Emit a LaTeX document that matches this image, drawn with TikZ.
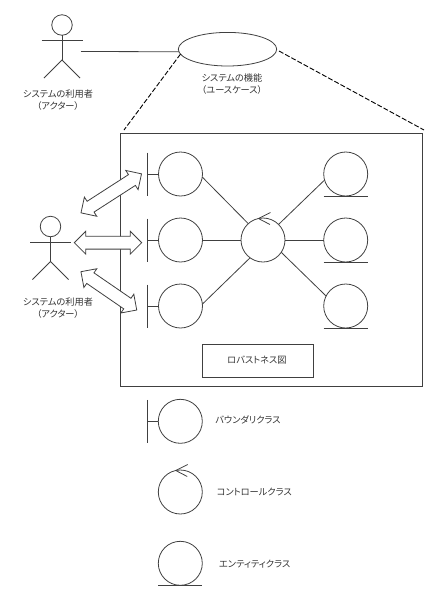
\documentclass[tikz,border=0pt]{standalone}
\usepackage{fontspec}
\setmainfont{Noto Sans CJK JP}[RawFeature=+palt]
\usetikzlibrary{positioning,shapes.geometric,shapes.arrows}
\definecolor{trait}{gray}{0.25}
\definecolor{texte}{gray}{0.2}
\tikzset{
  rond/.style={circle, draw=trait, line width=0.8pt, fill=none, minimum size=44pt, inner sep=0pt, outer sep=0pt},
  tete/.style={circle, draw=trait, line width=0.8pt, minimum size=20.5pt, inner sep=0pt, outer sep=0pt},
  lien/.style={draw=trait, line width=0.8pt},
  tirets/.style={draw=black, line width=0.9pt, dash pattern=on 5pt off 2pt},
  etiq/.style={align=center, text=texte, inner sep=0pt, font=\fontsize{9.2}{11.5}\selectfont},
  cadre/.style={rectangle, draw=trait, line width=0.9pt, inner sep=0pt, outer sep=0pt},
  fleche/.style={double arrow, draw=trait, fill=white, line width=0.8pt, minimum width=22pt,
                 double arrow head extend=5pt, inner xsep=0pt, inner ysep=6pt, outer sep=0pt},
}
\newcommand{\acteur}[1]{%
  \draw[lien] ([xshift=-20.5pt,yshift=-15.5pt]#1.center) -- ([xshift=20.5pt,yshift=-15.5pt]#1.center);
  \draw[lien] (#1.south) -- ([yshift=-35pt]#1.center);
  \draw[lien] ([xshift=-18pt,yshift=-53pt]#1.center) -- ([yshift=-35pt]#1.center) -- ([xshift=18pt,yshift=-53pt]#1.center);}
\newcommand{\bornage}[1]{%
  \draw[lien] (#1.west) -- ++(-11,0) ++(0,-21.5) -- ++(0,43);}
\newcommand{\entite}[1]{%
  \draw[lien] ([xshift=-22pt]#1.south) -- ([xshift=22pt]#1.south);}
\newcommand{\controle}[1]{%
  \draw[lien] (#1.102) ++(12,-6) -- (#1.102) -- ++(11.5,6);}

\begin{document}
\begin{tikzpicture}[x=1pt, y=-1pt, node distance=22pt]
    \useasboundingbox (0,0) rectangle (442,598);
    % cas d'utilisation
    \node[tete] (act1) at (62,25) {};
    \acteur{act1}
    \node[etiq] (lact1) at (58,100) {システムの利用者\\（アクター）};
    \node[ellipse, draw=trait, line width=0.8pt, minimum width=98.4pt, minimum height=33.6pt,
          inner sep=0pt, outer sep=0pt] (uc) at (227.5,49.2) {};
    \node[etiq] (luc) at (232,84) {システムの機能\\（ユースケース）};
    \coordinate (ca) at (81,51.5);
    \draw[lien] (ca) -- (uc.183);
    % cadre
    \node[cadre, minimum width=302.2pt, minimum height=253.4pt] (cad) at (271.8,260) {};
    \coordinate (dg) at (124,130);
    \coordinate (dd) at (424,130);
    \coordinate (ud) at (279,51);
    \draw[tirets] (uc.186) -- (dg);
    \draw[tirets] (ud) -- (dd);
    % robustesse
    \node[rond] (b1) at (180.5,174) {};
    \node[rond, below=of b1] (b2) {};
    \node[rond, below=of b2] (b3) {};
    \node[rond, right=38.5pt of b2] (ctl) {};
    \node[rond, right=38.7pt of ctl] (e2) {};
    \node[rond, above=of e2] (e1) {};
    \node[rond, below=of e2] (e3) {};
    \bornage{b1} \bornage{b2} \bornage{b3}
    \entite{e1} \entite{e2} \entite{e3}
    \controle{ctl}
    \draw[lien] (b1.-8) -- (ctl.132);
    \draw[lien] (b2) -- (ctl);
    \draw[lien] (b3.5) -- (ctl.234);
    \draw[lien] (ctl.45) -- (e1.196);
    \draw[lien] (ctl) -- (e2);
    \draw[lien] (ctl.-34) -- (e3.153);
    \node[cadre, minimum width=111pt, minimum height=33pt] (nom) at (257.8,360.5) {};
    \node[etiq] (lnom) at (257,360) {ロバストネス図};
    % acteur et fleches
    \node[tete] (act2) at (50.5,226.5) {};
    \acteur{act2}
    \node[etiq] (lact2) at (58,308) {システムの利用者\\（アクター）};
    \node[fleche, minimum height=72pt, rotate=32.8] (f1) at (111.25,193.35) {};
    \node[fleche, minimum height=67.4pt] (f2) at (108,242.7) {};
    \node[fleche, minimum height=67.7pt, rotate=-34.5] (f3) at (108.85,290.85) {};
    % legende
    \node[rond] (lb) at (180.3,421.3) {};
    \bornage{lb}
    \node[etiq] (tlb) at (248,420) {バウンダリクラス};
    \node[rond] (lc) at (180.3,492) {};
    \controle{lc}
    \node[etiq] (tlc) at (254.3,491.7) {コントロールクラス};
    \node[rond] (le) at (180.3,563.3) {};
    \entite{le}
    \node[etiq] (tle) at (254.7,563.7) {エンティティクラス};
\end{tikzpicture}
\end{document}
